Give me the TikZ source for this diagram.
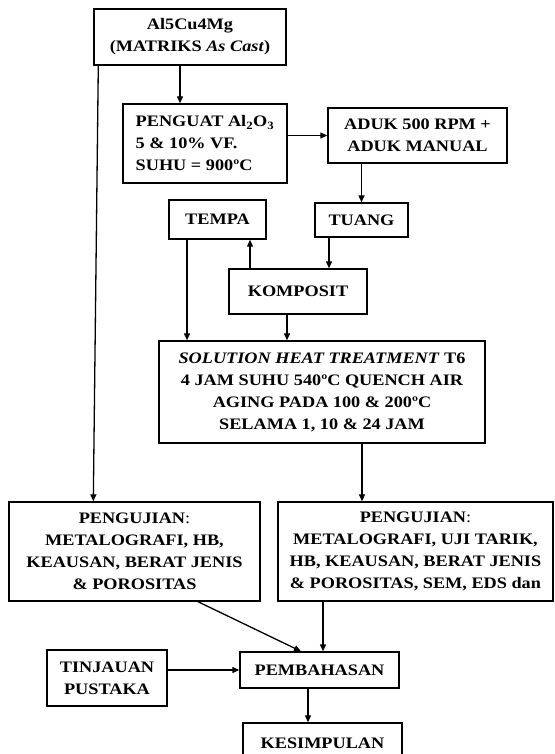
\documentclass[tikz,border=0pt]{standalone}
\usepackage{fontspec}
\setmainfont[FakeStretch=1.14]{Liberation Serif}
\usetikzlibrary{arrows.meta,positioning,calc}
\newcommand{\alox}{Al\textsubscript{2}O\textsubscript{3}}

\begin{document}
\begin{tikzpicture}[x=1pt, y=-1pt,
  font=\fontsize{16}{22}\selectfont\bfseries,
  box/.style={draw, line width=1.4pt, align=center, inner sep=0pt},
  flow/.style={-{Triangle[length=7pt,width=6pt]}, line width=1.3pt}
]
\useasboundingbox (0,0) rectangle (554,754);
\node[box, minimum width=192pt, minimum height=56pt] (mat) at (190,37) {Al5Cu4Mg\\(MATRIKS \textit{As Cast})};
\node[box, align=left, minimum width=164pt, minimum height=79pt] (pen) at (205,143.5) {PENGUAT \alox\\5 \& 10\% VF.\\SUHU = 900ºC};
\node[box, minimum width=179pt, minimum height=55pt] (adk) at (417.5,135.5) {ADUK 500 RPM +\\ADUK MANUAL};
\node[box, minimum width=97pt, minimum height=39pt] (tmp) at (217.5,219.5) {TEMPA};
\node[box, minimum width=93pt, minimum height=34pt] (tng) at (361.5,220) {TUANG};
\node[box, minimum width=138pt, minimum height=45pt] (kom) at (298,291.5) {KOMPOSIT};
\node[box, minimum width=326pt, minimum height=102pt] (sht) at (322,392) {\textit{SOLUTION HEAT TREATMENT} T6\\4 JAM SUHU 540ºC QUENCH AIR\\AGING PADA 100 \& 200ºC\\SELAMA 1, 10 \& 24 JAM};
\node[box, minimum width=251pt, minimum height=99pt] (uj1) at (134.5,551.5) {PENGUJIAN{\mdseries:}\\METALOGRAFI, HB,\\KEAUSAN, BERAT JENIS\\\& POROSITAS};
\node[box, minimum width=275pt, minimum height=99pt] (uj2) at (415.5,551.5) {PENGUJIAN{\mdseries:}\\METALOGRAFI, UJI TARIK,\\HB, KEAUSAN, BERAT JENIS\\\& POROSITAS, SEM, EDS dan};
\node[box, minimum width=120pt, minimum height=56pt] (tnj) at (107,678) {TINJAUAN\\PUSTAKA};
\node[box, minimum width=159pt, minimum height=36pt] (bhs) at (319.5,670) {PEMBAHASAN};
\node[box, minimum width=159pt, minimum height=40pt] (ksm) at (322.5,743) {KESIMPULAN};
% straight downward links
\foreach \a/\b/\dx in {mat/pen/-10, tng/kom/-32.5, tmp/sht/-30.5, kom/sht/-11, sht/uj2/40, bhs/ksm/-11.5}{
  \draw[flow] ([xshift=\dx pt]\a.south) -- ([xshift=\dx pt]\a.south |- \b.north);
}
\draw[flow] (adk.south -| tng.north) -- (tng.north);
\draw[flow] ([xshift=-48pt]kom.north) -- ([xshift=-48pt]kom.north |- tmp.south);
\draw[flow] (pen.east |- adk.west) -- (adk.west);
\draw[flow] ([xshift=5pt]mat.south west) -- ([xshift=85pt]uj1.north west);
\draw[flow] ([xshift=63.5pt]uj1.south) -- ([xshift=-18.5pt]bhs.north);
\draw[flow] ([xshift=3.5pt]bhs.north |- uj2.south) -- ([xshift=3.5pt]bhs.north);
\draw[flow] (tnj.east |- bhs.west) -- (bhs.west);
\end{tikzpicture}
\end{document}
